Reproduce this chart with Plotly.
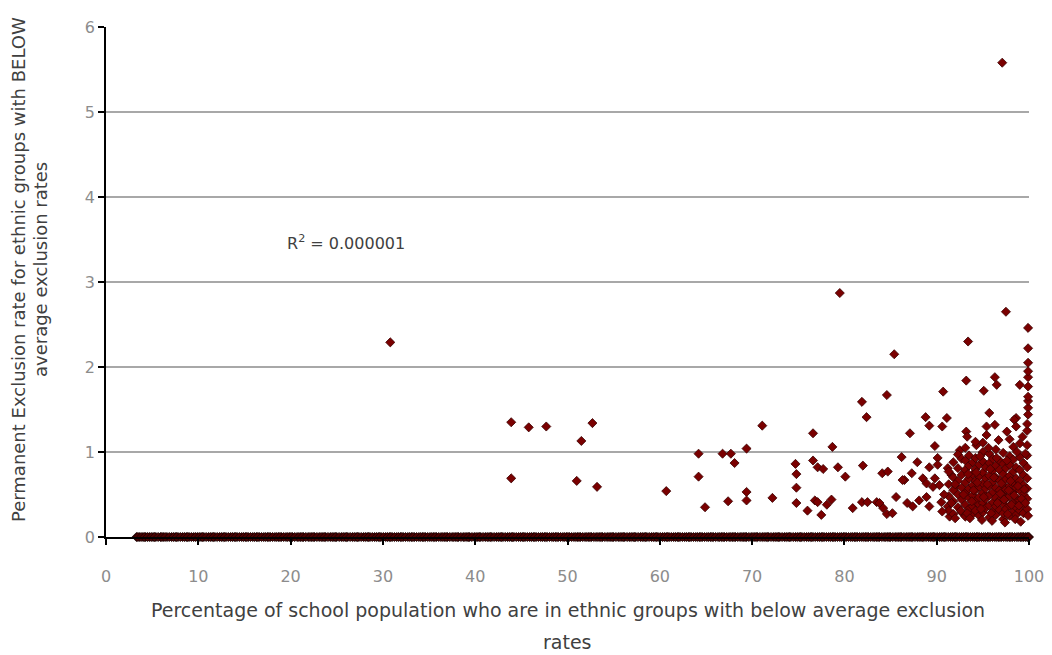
import plotly.graph_objects as go

# Points lying on zero (x positions only)
zero_x = [3.3, 3.6, 4.0, 4.3, 4.7, 5.1, 5.4, 5.9, 6.2, 6.6, 7.1, 7.5, 7.8, 8.3, 8.7, 9.0, 9.5, 9.9,
          10.3, 10.6, 11.1, 11.5, 11.8, 12.3, 12.7, 13.0, 13.5, 13.9, 14.2, 14.7, 15.1, 15.4, 15.9,
          16.3, 16.6, 17.1, 17.5, 17.8, 18.3, 18.7, 19.0, 19.5, 19.9, 20.2, 20.7, 21.1, 21.4, 21.9,
          22.3, 22.6, 23.1, 23.5, 23.8, 24.3, 24.7, 25.0, 25.5, 25.9, 26.2, 26.7, 27.1, 27.4, 27.9,
          28.3, 28.6, 29.1, 29.5, 29.8, 30.3, 30.7, 31.0, 31.5, 31.9, 32.2, 32.7, 33.1, 33.4, 33.9,
          34.3, 34.6, 35.1, 35.5, 35.8, 36.3, 36.7, 37.0, 37.5, 37.9, 38.2, 38.7, 39.1, 39.4, 39.9,
          40.3, 40.6, 41.1, 41.5, 41.8, 42.3, 42.7, 43.0, 43.5, 43.9, 44.2, 44.7, 45.1, 45.4, 45.9,
          46.3, 46.6, 47.1, 47.5, 47.8, 48.3, 48.7, 49.0, 49.5, 49.9, 50.2, 50.7, 51.1, 51.4, 51.9,
          52.3, 52.6, 53.1, 53.5, 53.8, 54.3, 54.7, 55.0, 55.5, 55.9, 56.2, 56.7, 57.1, 57.4, 57.9,
          58.3, 58.6, 59.1, 59.5, 59.8, 60.3, 60.7, 61.0, 61.5, 61.9, 62.2, 62.7, 63.1, 63.4, 63.9,
          64.3, 64.6, 65.1, 65.5, 65.8, 66.3, 66.7, 67.0, 67.5, 67.9, 68.2, 68.7, 69.1, 69.4, 69.9,
          70.3, 70.6, 71.1, 71.5, 71.8, 72.3, 72.7, 73.0, 73.5, 73.9, 74.2, 74.7, 75.1, 75.4, 75.9,
          76.3, 76.6, 77.1, 77.5, 77.8, 78.3, 78.7, 79.0, 79.5, 79.9, 80.2, 80.7, 81.1, 81.4, 81.9,
          82.3, 82.6, 83.1, 83.5, 83.8, 84.3, 84.7, 85.0, 85.5, 85.9, 86.2, 86.7, 87.1, 87.4, 87.9,
          88.3, 88.6, 89.1, 89.5, 89.8, 90.3, 90.7, 91.0, 91.5, 91.9, 92.2, 92.7, 93.1, 93.4, 93.9,
          94.3, 94.6, 95.1, 95.5, 95.8, 96.3, 96.7, 97.0, 97.5, 97.9, 98.2, 98.7, 99.1, 99.4, 99.8, 100.0]

# More zero-valued schools, between the ones above
zero_x_more = [3.45, 3.8, 4.15, 4.5, 4.9, 5.25, 5.65, 6.05, 6.4, 6.85, 7.3, 7.65, 8.05, 8.5, 8.85,
               9.25, 9.7, 10.1, 10.45, 10.85, 11.3, 11.65, 12.05, 12.5, 12.85, 13.25, 13.7, 14.05,
               14.45, 14.9, 15.25, 15.65, 16.1, 16.45, 16.85, 17.3, 17.65, 18.05, 18.5, 18.85, 19.25,
               19.7, 20.05, 20.45, 20.9, 21.25, 21.65, 22.1, 22.45, 22.85, 23.3, 23.65, 24.05, 24.5,
               24.85, 25.25, 25.7, 26.05, 26.45, 26.9, 27.25, 27.65, 28.1, 28.45, 28.85, 29.3, 29.65,
               30.05, 30.5, 30.85, 31.25, 31.7, 32.05, 32.45, 32.9, 33.25, 33.65, 34.1, 34.45, 34.85,
               35.3, 35.65, 36.05, 36.5, 36.85, 37.25, 37.7, 38.05, 38.45, 38.9, 39.25, 39.65, 40.1,
               40.45, 40.85, 41.3, 41.65, 42.05, 42.5, 42.85, 43.25, 43.7, 44.05, 44.45, 44.9, 45.25,
               45.65, 46.1, 46.45, 46.85, 47.3, 47.65, 48.05, 48.5, 48.85, 49.25, 49.7, 50.05, 50.45,
               50.9, 51.25, 51.65, 52.1, 52.45, 52.85, 53.3, 53.65, 54.05, 54.5, 54.85, 55.25, 55.7,
               56.05, 56.45, 56.9, 57.25, 57.65, 58.1, 58.45, 58.85, 59.3, 59.65, 60.05, 60.5, 60.85,
               61.25, 61.7, 62.05, 62.45, 62.9, 63.25, 63.65, 64.1, 64.45, 64.85, 65.3, 65.65, 66.05,
               66.5, 66.85, 67.25, 67.7, 68.05, 68.45, 68.9, 69.25, 69.65, 70.1, 70.45, 70.85, 71.3,
               71.65, 72.05, 72.5, 72.85, 73.25, 73.7, 74.05, 74.45, 74.9, 75.25, 75.65, 76.1, 76.45,
               76.85, 77.3, 77.65, 78.05, 78.5, 78.85, 79.25, 79.7, 80.05, 80.45, 80.9, 81.25, 81.65,
               82.1, 82.45, 82.85, 83.3, 83.65, 84.05, 84.5, 84.85, 85.25, 85.7, 86.05, 86.45, 86.9,
               87.25, 87.65, 88.1, 88.45, 88.85, 89.3, 89.65, 90.05, 90.5, 90.85, 91.25, 91.7, 92.05,
               92.45, 92.9, 93.25, 93.65, 94.1, 94.45, 94.85, 95.3, 95.65, 96.05, 96.5, 96.85, 97.25,
               97.7, 98.05, 98.45, 98.9, 99.25, 99.6, 99.9]

# Scattered non-zero points (x, y)
sparse_points = [
    (97.1, 5.58), (30.8, 2.29), (79.5, 2.87), (85.4, 2.15), (84.6, 1.67), (81.9, 1.59), (82.4, 1.41),
    (71.1, 1.31), (76.6, 1.22), (78.7, 1.06), (69.4, 1.04), (74.7, 0.86), (74.8, 0.74), (74.8, 0.58),
    (74.8, 0.40), (76.6, 0.90), (77.1, 0.82), (77.7, 0.80), (79.3, 0.82), (80.1, 0.71), (82.0, 0.84),
    (84.1, 0.75), (84.7, 0.77), (69.4, 0.53), (69.4, 0.43), (72.2, 0.46), (76.0, 0.31), (76.8, 0.43),
    (77.1, 0.41), (77.5, 0.26), (78.1, 0.38), (78.6, 0.44), (80.9, 0.34), (81.9, 0.41), (82.5, 0.41),
    (83.5, 0.41), (84.2, 0.34), (84.6, 0.27), (85.6, 0.47),
    (43.9, 1.35), (45.8, 1.29), (47.7, 1.30), (52.7, 1.34), (51.5, 1.13), (43.9, 0.69), (51.0, 0.66),
    (53.2, 0.59), (60.7, 0.54), (64.2, 0.98), (66.8, 0.98), (67.7, 0.98), (68.1, 0.87), (64.2, 0.71),
    (64.9, 0.35), (67.4, 0.42),
    (97.5, 2.65), (99.9, 2.46), (99.9, 2.22), (93.4, 2.30), (90.7, 1.71), (93.2, 1.84), (96.3, 1.88),
    (96.5, 1.79), (95.1, 1.72), (99.0, 1.79), (99.9, 1.88), (99.9, 1.77), (88.8, 1.41), (91.1, 1.40),
    (95.7, 1.46), (98.6, 1.40), (99.9, 1.52), (99.9, 1.44),
    (87.1, 1.22), (89.2, 1.31), (90.6, 1.30), (93.2, 1.24), (93.3, 1.18), (95.4, 1.30), (96.3, 1.32),
    (95.4, 1.20), (97.6, 1.24), (98.4, 1.38), (98.6, 1.30), (99.8, 1.25), (99.8, 1.33), (89.8, 1.07),
    (92.5, 1.02), (94.3, 1.08), (95.0, 0.99), (86.2, 0.94), (87.9, 0.88), (90.1, 0.93), (90.1, 0.85),
    (91.2, 0.81), (89.2, 0.82), (87.3, 0.75), (86.5, 0.67), (88.5, 0.69), (88.9, 0.63), (89.8, 0.69),
    (89.6, 0.59), (91.6, 0.73), (92.1, 0.59), (86.8, 0.40), (87.4, 0.36), (88.1, 0.43), (88.9, 0.47),
    (89.2, 0.36), (90.5, 0.41), (91.2, 0.36), (91.4, 0.24), (83.8, 0.40), (85.2, 0.28), (95.0, 1.11),
    (86.3, 0.67), (90.3, 0.61),
]

# Dense cluster near x = 91..100 (x, list of y)
cluster_columns = [
    (91.3, [0.31, 0.48, 0.62, 0.77]),
    (91.8, [0.27, 0.42, 0.55, 0.70, 0.88]),
    (92.3, [0.35, 0.50, 0.66, 0.81, 0.97]),
    (92.7, [0.29, 0.44, 0.58, 0.73, 0.92]),
    (93.1, [0.24, 0.38, 0.52, 0.64, 0.79, 0.90, 1.05]),
    (93.5, [0.33, 0.46, 0.57, 0.69, 0.84, 0.96]),
    (93.9, [0.27, 0.36, 0.49, 0.61, 0.74, 0.88]),
    (94.2, [0.31, 0.42, 0.55, 0.66, 0.80, 0.93, 1.12]),
    (94.6, [0.25, 0.38, 0.47, 0.59, 0.71, 0.85]),
    (95.0, [0.29, 0.40, 0.52, 0.63, 0.76, 0.89, 1.00]),
    (95.3, [0.34, 0.45, 0.57, 0.69, 0.82]),
    (95.7, [0.23, 0.37, 0.49, 0.60, 0.72, 0.87, 0.98]),
    (96.1, [0.30, 0.41, 0.53, 0.65, 0.78, 0.92]),
    (96.4, [0.26, 0.36, 0.46, 0.58, 0.70, 0.84, 1.03]),
    (96.8, [0.32, 0.43, 0.55, 0.67, 0.79, 0.90]),
    (97.2, [0.21, 0.28, 0.39, 0.50, 0.61, 0.74, 0.86, 0.99]),
    (97.5, [0.33, 0.45, 0.56, 0.68, 0.81]),
    (97.9, [0.25, 0.37, 0.48, 0.60, 0.72, 0.85, 0.95]),
    (98.3, [0.30, 0.41, 0.53, 0.64, 0.77, 0.91, 1.06]),
    (98.6, [0.26, 0.35, 0.46, 0.58, 0.69, 0.82]),
    (99.0, [0.31, 0.43, 0.55, 0.66, 0.79, 0.94, 1.10]),
    (99.4, [0.28, 0.38, 0.50, 0.61, 0.73, 0.87]),
    (99.8, [0.33, 0.45, 0.57, 0.69, 0.82, 0.96, 1.08]),
]

# Further cluster points in between the columns (x, y)
cluster_extra = [
    (92.0, 0.22), (92.6, 0.31), (93.3, 0.28), (93.8, 0.42), (94.0, 0.55), (94.4, 0.64), (94.8, 0.33),
    (95.1, 0.47), (95.5, 0.62), (95.9, 0.28), (96.2, 0.70), (96.6, 0.40), (96.9, 0.51), (97.0, 0.63),
    (97.3, 0.44), (97.7, 0.27), (97.8, 0.55), (98.0, 0.66), (98.1, 0.38), (98.4, 0.49), (98.8, 0.60),
    (98.9, 0.37), (99.2, 0.45), (99.5, 0.56), (99.6, 0.40), (99.9, 0.25), (93.6, 0.22), (94.9, 0.20),
    (96.0, 0.19), (97.4, 0.17), (98.5, 0.21), (99.1, 0.18), (94.3, 0.76), (95.8, 0.80), (96.5, 0.93),
    (97.6, 0.90), (98.7, 1.00), (99.6, 0.98), (92.9, 0.50), (92.0, 0.62), (91.6, 0.40), (90.8, 0.50),
    (90.6, 0.30), (93.4, 0.74), (94.7, 0.95), (95.6, 1.05), (96.7, 1.14), (97.9, 1.15), (99.3, 1.18),
    (99.9, 1.60), (99.9, 1.65), (99.9, 2.05), (99.9, 1.95),
]

x_ticks = [0, 10, 20, 30, 40, 50, 60, 70, 80, 90, 100]
y_ticks = [0, 1, 2, 3, 4, 5, 6]
r2_text = "R<sup>2</sup> = 0.000001"
x_title_lines = ["Percentage of school population who are in ethnic groups with below average exclusion",
                 "rates"]
y_title_lines = ["Permanent Exclusion rate for ethnic groups with BELOW",
                 "average exclusion rates"]

nz_x, nz_y = [], []
for px, py in sparse_points:
    nz_x.append(px)
    nz_y.append(py)
for cx, col in cluster_columns:
    for cy in col:
        nz_x.append(cx)
        nz_y.append(cy)
for px, py in cluster_extra:
    nz_x.append(px)
    nz_y.append(py)

zx = list(zero_x) + list(zero_x_more)
zy = [0.0] * len(zx)

FONT = "DejaVu Sans"
TEXT = "#404040"
TICK = "#8c8c8c"

fig = go.Figure()
fig.add_trace(go.Scatter(
    x=zx, y=zy, mode="markers", cliponaxis=False, showlegend=False,
    marker=dict(symbol="diamond", size=7, color="#4a0000",
                line=dict(color="#140000", width=0.8)),
))
fig.add_trace(go.Scatter(
    x=nz_x, y=nz_y, mode="markers", cliponaxis=False, showlegend=False,
    marker=dict(symbol="diamond", size=7, color="#7a0000",
                line=dict(color="#3a0000", width=0.8)),
))

fig.add_annotation(x=19.4, y=3.46, xref="x", yref="y", text=r2_text, showarrow=False,
                   xanchor="left", yanchor="middle",
                   font=dict(family=FONT, size=16, color=TEXT))

# Axis titles (two lines each, placed as in the reference)
fig.add_annotation(x=0.5, y=-0.143, xref="paper", yref="paper", text=x_title_lines[0],
                   showarrow=False, xanchor="center", yanchor="middle",
                   font=dict(family=FONT, size=19, color=TEXT))
fig.add_annotation(x=0.5, y=-0.206, xref="paper", yref="paper", text=x_title_lines[1],
                   showarrow=False, xanchor="center", yanchor="middle",
                   font=dict(family=FONT, size=19, color=TEXT))
fig.add_annotation(x=-0.0953, y=0.5235, xref="paper", yref="paper", text=y_title_lines[0],
                   showarrow=False, xanchor="center", yanchor="middle", textangle=-90,
                   font=dict(family=FONT, size=18, color=TEXT))
fig.add_annotation(x=-0.0715, y=0.5235, xref="paper", yref="paper", text=y_title_lines[1],
                   showarrow=False, xanchor="center", yanchor="middle", textangle=-90,
                   font=dict(family=FONT, size=18, color=TEXT))

# The page body adds an 8px offset; size the figure to fit the 1052x655 window.
fig.update_layout(
    width=1044, height=647,
    margin=dict(l=98, r=23, t=19, b=118, autoexpand=False),
    paper_bgcolor="white", plot_bgcolor="white",
    font=dict(family=FONT, size=15, color=TEXT),
    xaxis=dict(range=[0, 100], tickvals=x_ticks, showgrid=False, zeroline=False, automargin=False,
               showline=True, linecolor="black", linewidth=2,
               ticks="outside", ticklen=6, tickcolor="black", tickwidth=1.5,
               tickfont=dict(family=FONT, size=16, color=TICK),
               ticklabelstandoff=18),
    yaxis=dict(range=[0, 6], tickvals=y_ticks, showgrid=True, gridcolor="#a8a8a8", gridwidth=2,
               zeroline=False, showline=True, linecolor="black", linewidth=1.5, automargin=False,
               ticks="outside", ticklen=6, tickcolor="black", tickwidth=1.5,
               tickfont=dict(family=FONT, size=16, color=TICK)),
)

fig.write_html("out.html")
